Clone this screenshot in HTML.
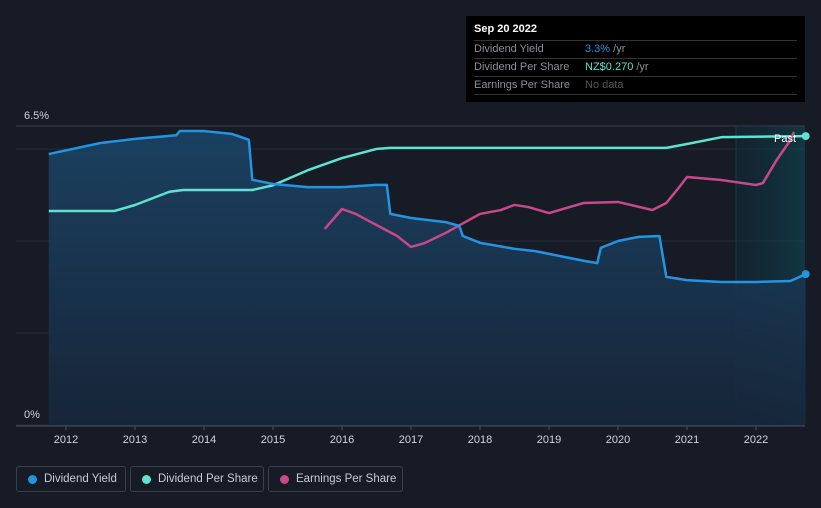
<!DOCTYPE html>
<html><head><meta charset="utf-8">
<style>
html,body{margin:0;padding:0;background:#161b26;}
body{width:821px;height:508px;overflow:hidden;font-family:"Liberation Sans",sans-serif;position:relative;}
.tt{position:absolute;left:466px;top:16px;width:339px;height:86px;background:#000;color:#fff;}
.tt .row{position:absolute;left:8px;width:323px;border-top:1px solid #333;height:17px;font-size:11px;line-height:17px;color:#8a8f98;}
.tt .v{position:absolute;left:111px;}
.leg{position:absolute;top:466px;height:26px;border:1px solid #3a3f4a;border-radius:3px;box-sizing:border-box;font-size:11.5px;color:#c8ccd2;line-height:24px;padding-left:27px;white-space:nowrap;overflow:hidden;}
.leg i{position:absolute;left:11px;top:8px;width:9px;height:9px;border-radius:50%;}
</style></head><body>
<svg id="chart" width="821" height="508" style="position:absolute;left:0;top:0">
<defs>
<linearGradient id="ag" x1="0" y1="0" x2="0" y2="1"><stop offset="0" stop-color="#1b4466" stop-opacity="0.9"/><stop offset="1" stop-color="#17263a" stop-opacity="0.9"/></linearGradient>
<linearGradient id="fg" x1="0" y1="0" x2="1" y2="0"><stop offset="0" stop-color="#0f3040" stop-opacity="0.35"/><stop offset="1" stop-color="#0d4a55" stop-opacity="0.6"/></linearGradient>
</defs>
<g id="grid"></g>
<g id="series"></g>
<g id="axis"></g>
</svg>
<div class="tt">
<div style="position:absolute;left:8px;top:7px;font-size:11px;font-weight:bold;">Sep 20 2022</div>
<div class="row" style="top:24px">Dividend Yield<span class="v"><span style="color:#2394e2">3.3%</span> /yr</span></div>
<div class="row" style="top:42px">Dividend Per Share<span class="v"><span style="color:#5fe3d0">NZ$0.270</span> /yr</span></div>
<div class="row" style="top:60px;border-bottom:1px solid #333">Earnings Per Share<span class="v" style="color:#555">No data</span></div>
</div>
<div class="leg" style="left:16px;width:110px"><i style="background:#2394e2"></i>Dividend Yield</div>
<div class="leg" style="left:130px;width:134px"><i style="background:#5fe3d0"></i>Dividend Per Share</div>
<div class="leg" style="left:268px;width:135px"><i style="background:#c8488a"></i>Earnings Per Share</div>
<script>
const xTicks=[2012,2013,2014,2015,2016,2017,2018,2019,2020,2021,2022];
const yieldX=[2011.75,2012.5,2013,2013.6,2013.65,2014,2014.4,2014.65,2014.7,2015,2015.5,2016,2016.5,2016.65,2016.7,2017,2017.5,2017.7,2017.75,2018,2018.5,2018.8,2019,2019.5,2019.7,2019.75,2020,2020.3,2020.6,2020.7,2021,2021.5,2022,2022.5,2022.72];
const yieldV=[5.89,6.13,6.22,6.3,6.39,6.39,6.33,6.2,5.33,5.24,5.17,5.17,5.22,5.22,4.59,4.5,4.41,4.33,4.11,3.96,3.83,3.78,3.72,3.57,3.52,3.85,4.0,4.09,4.11,3.22,3.15,3.11,3.11,3.13,3.28];
const dpsX=[2011.75,2012.7,2013,2013.5,2013.7,2014.7,2015,2015.5,2016,2016.5,2016.7,2020.7,2021,2021.5,2022.72];
const dpsV=[0.2,0.2,0.2056,0.218,0.2196,0.2196,0.224,0.238,0.2495,0.258,0.259,0.259,0.2626,0.269,0.27];
const epsX=[2015.75,2016,2016.2,2016.5,2016.8,2017,2017.2,2017.5,2018,2018.3,2018.5,2018.7,2019,2019.5,2020,2020.5,2020.7,2020.9,2021,2021.5,2022,2022.1,2022.3,2022.5,2022.55];
const epsV=[0.1307,0.144,0.1407,0.1333,0.126,0.1187,0.1213,0.128,0.1407,0.1433,0.1467,0.1453,0.1413,0.148,0.1487,0.1433,0.148,0.1593,0.1653,0.1633,0.16,0.1613,0.1767,0.19,0.1953];
const yTickV=[0,2,4,6,6.5];

const NS='http://www.w3.org/2000/svg';
const X=t=>66+(t-2012)*69;
const Y=v=>425-v*46;
const YD=v=>425-v*1070;
const YE=v=>425-v*1500;
function mk(tag,attrs,parent){const e=document.createElementNS(NS,tag);for(const k in attrs)e.setAttribute(k,attrs[k]);parent.appendChild(e);return e;}
const grid=document.getElementById('grid'),ser=document.getElementById('series'),ax=document.getElementById('axis');

yTickV.forEach(v=>{
  const l=mk('line',{x1:16,x2:805,y1:Y(v),y2:Y(v),stroke:v===6.5?'#3a3f4a':'#262d3a','stroke-width':1},grid);
  
  
});
const fb=mk('rect',{x:736,y:Y(6.5),width:805-736,height:Y(0)-Y(6.5),fill:'url(#fg)'},grid);


mk('line',{x1:736,x2:736,y1:Y(6.5),y2:Y(0),stroke:'#1a3a46','stroke-width':1},grid);

[[6.5,'6.5%'],[0,'0%']].forEach(([v,t])=>{
  const tx=mk('text',{x:24,y:Y(v)-7,fill:'#d0d4da','font-size':11},ax);tx.textContent=t;
  
  
});

let d='M'+X(yieldX[0])+','+Y(0);
yieldX.forEach((t,i)=>d+=' L'+X(t)+','+Y(yieldV[i]));
d+=' L'+X(yieldX[yieldX.length-1])+','+Y(0)+'Z';
const area=mk('path',{d:d,fill:'url(#ag)'},ser);



function line(xs,vs,yf,col,name){
  const p=mk('path',{d:xs.map((t,i)=>(i?'L':'M')+X(t)+','+yf(vs[i])).join(' '),fill:'none',stroke:col,'stroke-width':2.5,'stroke-linejoin':'round'},ser);
  
  
}
line(dpsX,dpsV,YD,'#5fe3d0','dividend-per-share-line');
line(epsX,epsV,YE,'#c8488a','earnings-per-share-line');
line(yieldX,yieldV,Y,'#2394e2','dividend-yield-line');

const c1=mk('circle',{cx:X(yieldX[yieldX.length-1]),cy:Y(yieldV[yieldV.length-1]),r:4,fill:'#2394e2'},ser);


const c2=mk('circle',{cx:X(dpsX[dpsX.length-1]),cy:YD(dpsV[dpsV.length-1]),r:4,fill:'#5fe3d0'},ser);


const past=mk('text',{x:774,y:142,fill:'#fff','font-size':11},ser);past.textContent='Past';



mk('line',{x1:16,x2:805,y1:426,y2:426,stroke:'#4a505c','stroke-width':1},ax);
xTicks.forEach(t=>{
  mk('line',{x1:X(t),x2:X(t),y1:426,y2:430,stroke:'#4a505c'},ax);
  const tx=mk('text',{x:X(t),y:443,fill:'#d0d4da','font-size':11,'text-anchor':'middle'},ax);tx.textContent=t;
  
  
});
</script>
</body></html>
